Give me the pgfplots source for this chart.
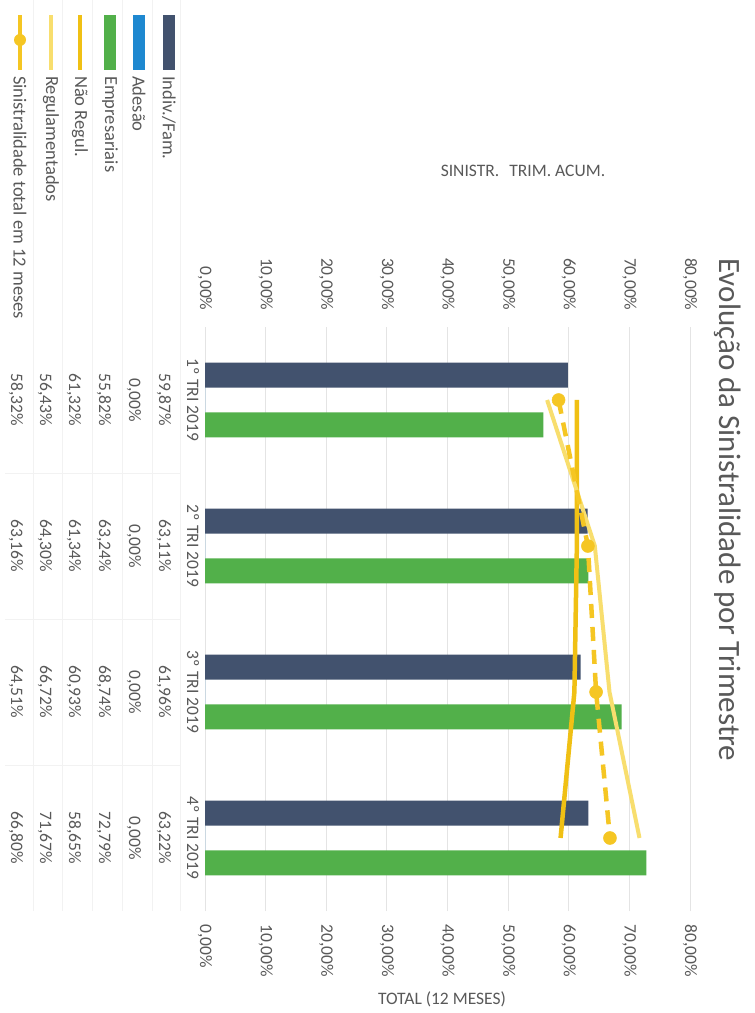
\documentclass[border=0pt]{standalone}
\usepackage{fontspec}
\setmainfont{Carlito}
\usepackage{pgfplots}
\pgfplotsset{compat=1.18}
\definecolor{indiv}{RGB}{66,82,110}
\definecolor{ades}{RGB}{30,136,208}
\definecolor{empr}{RGB}{82,176,74}
\definecolor{naor}{RGB}{240,192,20}
\definecolor{regul}{RGB}{248,222,110}
\definecolor{sinis}{RGB}{245,198,35}
\definecolor{txt}{RGB}{89,89,89}
\definecolor{grd}{RGB}{228,228,228}
\newcommand{\sz}{\fontsize{17.5bp}{20bp}\selectfont}
\newcommand{\lz}{\fontsize{18.5bp}{21bp}\selectfont}
\newcommand{\tv}[3]{\node[rotate=-90, font=\sz, text=txt, inner sep=0pt] at (#1bp,#2bp) {#3};}
\begin{document}
\begin{tikzpicture}
\useasboundingbox (0,0) rectangle (755bp,1013bp);
\fill[white] (0,0) rectangle (755bp,1013bp);
% faint table borders
\foreach \x in {33,62,92,122,152,180}{\draw[black!5, line width=0.5bp] (\x bp,102bp) -- (\x bp,1013bp);}
\foreach \y in {248,394,540}{\draw[black!5, line width=0.5bp] (5bp,\y bp) -- (180bp,\y bp);}

\begin{axis}[
  at={(205bp,102bp)}, anchor=south west,
  scale only axis, width=485bp, height=584bp,
  xmin=0, xmax=80, ymin=-0.5, ymax=3.5,
  axis line style={draw=none},
  xtick={0,10,...,80},
  xticklabels={{0,00\%},{10,00\%},{20,00\%},{30,00\%},{40,00\%},{50,00\%},{60,00\%},{70,00\%},{80,00\%}},
  ytick=\empty,
  major tick length=0pt,
  xmajorgrids, grid style={grd, line width=0.8bp},
  xticklabel style={rotate=-90, anchor=west, font=\sz, text=txt},
  xticklabel shift=10bp,
  clip=false,
]
\addplot[xbar, bar width=25bp, bar shift=0pt, fill=indiv, draw=none] coordinates {(59.87,3.171) (63.11,2.171) (61.96,1.171) (63.22,0.171)};
\addplot[xbar, bar width=25bp, bar shift=0pt, fill=ades, draw=none] coordinates {(0,3) (0,2) (0,1) (0,0)};
\addplot[xbar, bar width=25bp, bar shift=0pt, fill=empr, draw=none] coordinates {(55.82,2.829) (63.24,1.829) (68.74,0.829) (72.79,-0.171)};
\addplot[naor, line width=4.5bp, mark=none] coordinates {(61.32,3) (61.34,2) (60.93,1) (58.65,0)};
\addplot[regul, line width=4bp, mark=none] coordinates {(56.43,3) (64.30,2) (66.72,1) (71.67,0)};
\addplot[sinis, line width=4.5bp, dash pattern=on 14bp off 9bp, mark=*, mark size=6.5bp, mark options={solid, fill=sinis, draw=sinis, line width=0.5bp}] coordinates {(58.32,3) (63.16,2) (64.51,1) (66.80,0)};
\end{axis}

\begin{axis}[
  at={(205bp,102bp)}, anchor=south west,
  scale only axis, width=485bp, height=584bp,
  xmin=0, xmax=80, ymin=-0.5, ymax=3.5,
  axis line style={draw=none},
  xtick={0,10,...,80},
  xticklabels={{0,00\%},{10,00\%},{20,00\%},{30,00\%},{40,00\%},{50,00\%},{60,00\%},{70,00\%},{80,00\%}},
  ytick=\empty,
  major tick length=0pt,
  xticklabel pos=right,
  xticklabel style={rotate=-90, anchor=east, font=\sz, text=txt},
  xticklabel shift=13bp,
]
\end{axis}

% title and axis titles
\node[rotate=-90, font=\fontsize{31bp}{36bp}\selectfont, text=txt, inner sep=0pt] at (728bp,503bp) {Evolução da Sinistralidade por Trimestre};
\node[font=\sz, text=txt, inner sep=0pt] at (523bp,842bp) {SINISTR.\hspace{0.35em} TRIM. ACUM.};
\node[font=\sz, text=txt, inner sep=0pt] at (442bp,14bp) {TOTAL (12 MESES)};

% data table: category headers
\tv{193}{613}{1º TRI 2019}
\tv{193}{467}{2º TRI 2019}
\tv{193}{321}{3º TRI 2019}
\tv{193}{175}{4º TRI 2019}
% Indiv./Fam.
\tv{164}{613}{59,87\%}
\tv{164}{467}{63,11\%}
\tv{164}{321}{61,96\%}
\tv{164}{175}{63,22\%}
% Adesao
\tv{134}{613}{0,00\%}
\tv{134}{467}{0,00\%}
\tv{134}{321}{0,00\%}
\tv{134}{175}{0,00\%}
% Empresariais
\tv{104}{613}{55,82\%}
\tv{104}{467}{63,24\%}
\tv{104}{321}{68,74\%}
\tv{104}{175}{72,79\%}
% Nao Regul.
\tv{74}{613}{61,32\%}
\tv{74}{467}{61,34\%}
\tv{74}{321}{60,93\%}
\tv{74}{175}{58,65\%}
% Regulamentados
\tv{45}{613}{56,43\%}
\tv{45}{467}{64,30\%}
\tv{45}{321}{66,72\%}
\tv{45}{175}{71,67\%}
% Sinistralidade total
\tv{16}{613}{58,32\%}
\tv{16}{467}{63,16\%}
\tv{16}{321}{64,51\%}
\tv{16}{175}{66,80\%}

% legend keys
\fill[indiv] (163bp,943bp) rectangle (175bp,998bp);
\fill[ades] (133bp,943bp) rectangle (145bp,998bp);
\fill[empr] (104bp,943bp) rectangle (116bp,998bp);
\draw[naor, line width=4bp] (80bp,943bp) -- (80bp,998bp);
\draw[regul, line width=4bp] (51bp,943bp) -- (51bp,998bp);
\draw[sinis, line width=4bp] (20bp,943bp) -- (20bp,998bp);
\fill[sinis] (20bp,973bp) circle (6bp);
\foreach \x/\t in {169/{Indiv./Fam.},139/{Adesão},110/{Empresariais},80/{Não Regul.},51/{Regulamentados},20/{Sinistralidade total em 12 meses}}{
  \node[rotate=-90, anchor=west, inner sep=0pt, font=\lz, text=txt] at (\x bp,937bp) {\t};
}
\end{tikzpicture}
\end{document}
